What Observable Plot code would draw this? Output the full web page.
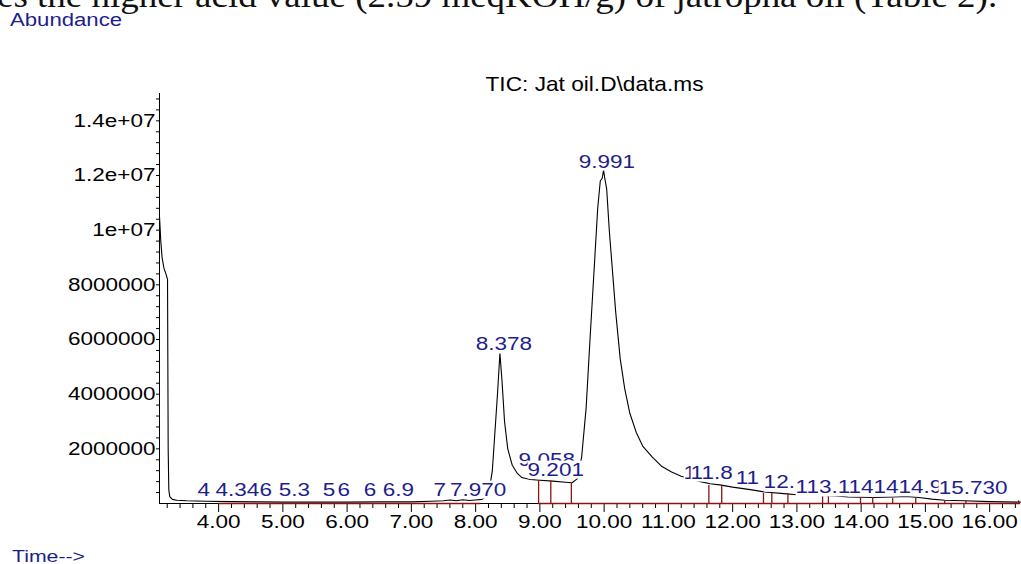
<!DOCTYPE html>
<html><head><meta charset="utf-8">
<script src="https://cdn.jsdelivr.net/npm/d3@7"></script>
<script src="https://cdn.jsdelivr.net/npm/@observablehq/plot@0.6"></script>
<style>
body{margin:0;background:#fff;width:1021px;height:564px;overflow:hidden;position:relative;font-family:"Liberation Sans",Arial,sans-serif}
#doc{position:absolute;left:-3px;top:-20px;font-family:"Liberation Serif","Times New Roman",serif;font-size:33px;line-height:33px;white-space:nowrap;color:#111;transform:scaleX(1.12);transform-origin:0 0}
#abund{position:absolute;left:10px;top:11px;font-size:18px;line-height:18px;color:#1e1e8c;transform:scaleX(1.23);transform-origin:0 0;white-space:nowrap}
#chart{position:absolute;left:0;top:32px}
#time{position:absolute;left:12px;top:548px;font-size:17px;line-height:17px;color:#1e1e8c;transform:scaleX(1.25);transform-origin:0 0;white-space:nowrap}
</style></head>
<body>
<div id="doc">es the higher acid value (2.59 meqKOH/g) of jatropha oil (Table 2).</div>
<div id="abund">Abundance</div>
<div id="chart"></div>
<div id="time">Time--&gt;</div>
<script>
// Total ion chromatogram (retention time in min, abundance)
const retentionTime = [3.08, 3.10, 3.12, 3.15, 3.18, 3.205, 3.215, 3.225, 3.24, 3.28, 3.35, 3.5, 3.8, 4.2, 4.6, 5.0, 5.5, 6.0, 6.5, 7.0, 7.3, 7.5, 7.6, 7.7, 7.8, 7.9, 8.0, 8.1, 8.18, 8.22, 8.26, 8.30, 8.34, 8.378, 8.41, 8.45, 8.50, 8.57, 8.65, 8.72, 8.85, 9.0, 9.2, 9.4, 9.5, 9.58, 9.65, 9.72, 9.78, 9.85, 9.90, 9.94, 9.97, 9.991, 10.01, 10.04, 10.08, 10.13, 10.18, 10.25, 10.32, 10.40, 10.50, 10.60, 10.75, 10.90, 11.05, 11.20, 11.35, 11.5, 11.65, 11.8, 12.0, 12.3, 12.5, 12.8, 13.0, 13.3, 13.6, 13.8, 14.0, 14.2, 14.5, 14.7, 14.9, 15.1, 15.3, 15.6, 16.0, 16.48];
const abundance = [10.5e6, 9.6e6, 9.0e6, 8.6e6, 8.4e6, 8.2e6, 2.0e6, 0.5e6, 0.25e6, 0.15e6, 0.12e6, 0.10e6, 0.08e6, 0.07e6, 0.06e6, 0.05e6, 0.05e6, 0.05e6, 0.06e6, 0.06e6, 0.08e6, 0.10e6, 0.13e6, 0.10e6, 0.14e6, 0.11e6, 0.13e6, 0.15e6, 0.3e6, 0.6e6, 1.2e6, 2.6e6, 4.0e6, 5.5e6, 4.5e6, 3.0e6, 2.0e6, 1.4e6, 1.1e6, 0.95e6, 0.88e6, 0.85e6, 0.82e6, 0.78e6, 0.76e6, 0.9e6, 1.7e6, 3.5e6, 6.0e6, 8.8e6, 10.8e6, 11.8e6, 11.9e6, 12.2e6, 11.9e6, 11.5e6, 10.0e6, 8.5e6, 7.0e6, 5.3e6, 4.2e6, 3.3e6, 2.6e6, 2.1e6, 1.7e6, 1.35e6, 1.15e6, 1.0e6, 0.9e6, 0.8e6, 0.72e6, 0.68e6, 0.6e6, 0.5e6, 0.42e6, 0.36e6, 0.32e6, 0.3e6, 0.28e6, 0.24e6, 0.23e6, 0.22e6, 0.24e6, 0.26e6, 0.22e6, 0.16e6, 0.12e6, 0.10e6, 0.07e6, 0.05e6];

// Integration drop lines
const dropTime = [8.98, 9.17, 9.49, 11.63, 11.83, 12.48, 12.61, 12.86, 13.40, 13.49, 13.99, 14.18, 14.49, 14.85, 15.30, 15.63, 16.45];
const dropTop = [0.84e6, 0.82e6, 0.76e6, 0.66e6, 0.66e6, 0.37e6, 0.37e6, 0.37e6, 0.26e6, 0.26e6, 0.22e6, 0.22e6, 0.18e6, 0.18e6, 0.11e6, 0.11e6, 0.10e6];
const baselineStart = [4.0, 8.98];
const baselineEnd = [8.08, 16.48];

// Peak labels (visible text, left position in min, baseline in abundance)
const peakText = ["4", "4.346", "5.3", "5", "6", "6", "6.9", "7", "7.970", "8.378", "9.058", "9.201", "9.991", "1", "11.8", "11", "12.", "113.", "1141414.9", "15.730"];
const peakLeft = [3.673, 3.953, 4.934, 5.619, 5.852, 6.257, 6.553, 7.346, 7.600, 8.0, 8.669, 8.809, 9.603, 11.237, 11.346, 12.047, 12.482, 12.98, 13.634, 15.206];
const peakBase = [0.29e6, 0.29e6, 0.29e6, 0.29e6, 0.29e6, 0.29e6, 0.29e6, 0.29e6, 0.29e6, 5.6e6, 1.39e6, 1.02e6, 12.29e6, 0.91e6, 0.91e6, 0.73e6, 0.55e6, 0.37e6, 0.37e6, 0.33e6];

const title = "TIC: Jat oil.D\\data.ms";
const xTicks = [4, 5, 6, 7, 8, 9, 10, 11, 12, 13, 14, 15, 16];
const yTicks = [2e6, 4e6, 6e6, 8e6, 1e7, 1.2e7, 1.4e7];
const yTickLabels = ["2000000", "4000000", "6000000", "8000000", "1e+07", "1.2e+07", "1.4e+07"];
const xMinor = d3.range(32, 165, 2).map(d => d / 10).filter(d => !xTicks.includes(d));
const yMinor = d3.range(4e5, 1.5e7, 4e5).filter(d => Math.abs(d / 2e6 - Math.round(d / 2e6)) > 1e-6);

const trace = retentionTime.map((t, i) => ({t, v: abundance[i]}));
const drops = dropTime.map((t, i) => ({t, v: dropTop[i]}));
const segs = baselineStart.map((s, i) => ({x1: s, x2: baselineEnd[i]}));
const labels = peakText.map((s, i) => ({s, t: peakLeft[i], v: peakBase[i]}));

const red = "#8c1414", blue = "#1e1e8c";
const xMin = 3.08, xMax = 16.48;

const chart = Plot.plot({
  width: 1021, height: 510,
  marginLeft: 159, marginRight: 1, marginTop: 61, marginBottom: 39,
  style: {fontFamily: "'Liberation Sans', Arial, sans-serif", fontSize: "18px", color: "#000", background: "transparent", overflow: "visible"},
  x: {domain: [xMin, xMax], label: null},
  y: {domain: [0, 1.5e7], label: null},
  marks: [
    Plot.axisX(xMinor, {tickSize: 5, tickFormat: () => "", stroke: "#000", label: null}),
    Plot.axisX(xTicks, {tickSize: 9, tickPadding: 3, tickFormat: d3.format(".2f"), fontSize: 18, fill: "#000", stroke: "#000", label: null}),
    Plot.axisY(yMinor, {tickSize: 3, tickFormat: () => "", stroke: "#000", label: null}),
    Plot.axisY(yTicks, {tickSize: 3, tickPadding: 1, tickFormat: d => yTickLabels[yTicks.indexOf(d)], fontSize: 18, fill: "#000", stroke: "#000", label: null}),
    Plot.ruleX([xMin], {y1: 0, y2: 1.5e7, stroke: "#000"}),
    Plot.ruleY([0], {x1: xMin, x2: xMax, stroke: "#000"}),
    Plot.line(trace, {x: "t", y: "v", stroke: "#000", strokeWidth: 1.1}),
    Plot.ruleX(drops, {x: "t", y1: 0, y2: "v", stroke: red, strokeWidth: 1.3}),
    Plot.ruleY(segs, {y: 0, x1: "x1", x2: "x2", stroke: red, strokeWidth: 1.3}),
    Plot.text(labels, {x: "t", y: "v", text: "s", textAnchor: "start", lineAnchor: "bottom", fill: blue, fontSize: 18, className: "pklab"}),
    Plot.text([title], {frameAnchor: "top-left", dx: 326, dy: -3, lineAnchor: "bottom", textAnchor: "start", fontSize: 21, fill: "#000", className: "ttl"})
  ]
});
document.getElementById("chart").appendChild(chart);

// stretch texts horizontally like the reference rendering
const svg = d3.select(chart);
svg.selectAll("text").each(function() {
  const isTitle = this.closest(".ttl") !== null;
  const len = this.getComputedTextLength();
  if (!len) return;
  this.setAttribute("lengthAdjust", "spacingAndGlyphs");
  this.setAttribute("textLength", isTitle ? 218 : len * 1.25);
});
// opaque label boxes (later labels cover earlier ones)
svg.selectAll(".pklab text").each(function() {
  const b = this.getBBox();
  const r = document.createElementNS("http://www.w3.org/2000/svg", "rect");
  r.setAttribute("x", b.x); r.setAttribute("y", b.y + 1);
  r.setAttribute("width", b.width); r.setAttribute("height", b.height - 2);
  r.setAttribute("fill", "#fff");
  const tr = this.getAttribute("transform");
  if (tr) r.setAttribute("transform", tr);
  this.parentNode.insertBefore(r, this);
});
</script>
</body></html>
